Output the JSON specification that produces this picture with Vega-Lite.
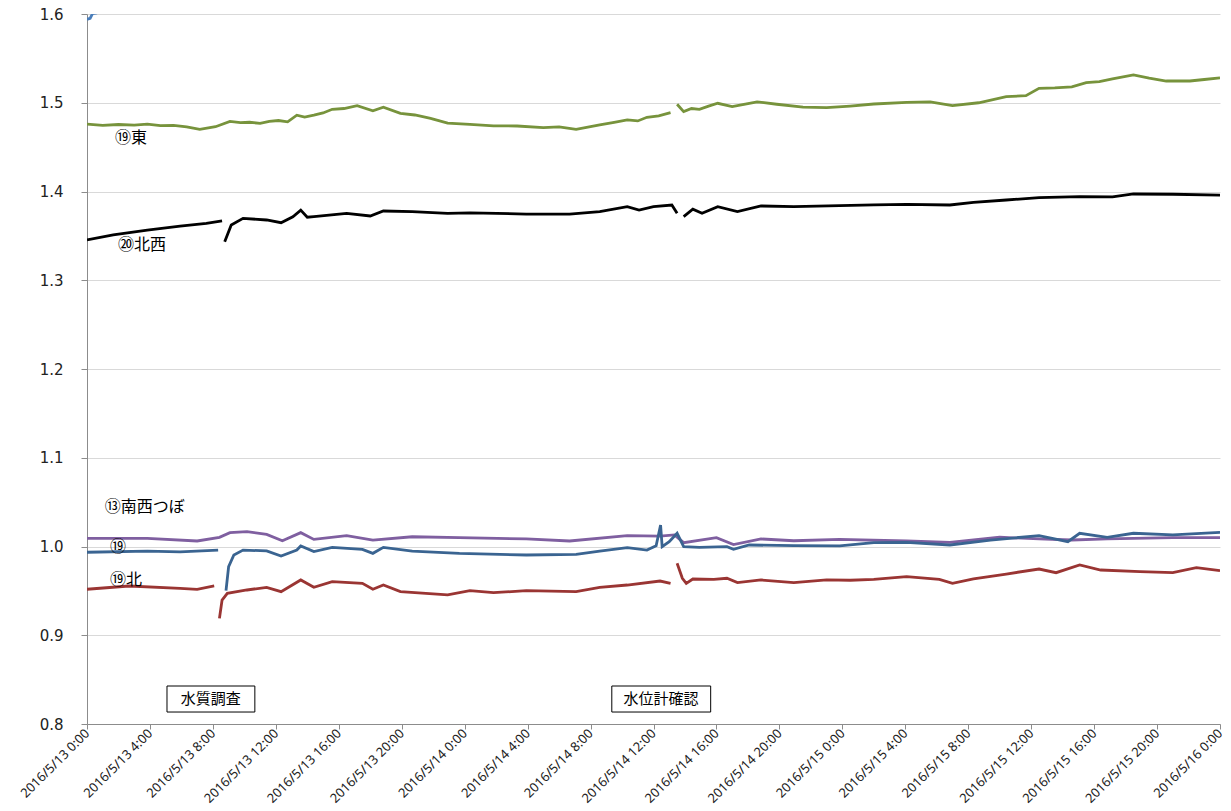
{
  "$schema": "https://vega.github.io/schema/vega-lite/v6.json",
  "width": 1133,
  "height": 710,
  "autosize": {"type": "none"},
  "padding": {"left": 87, "top": 14, "right": 11, "bottom": 87},
  "background": "white",
  "config": {
    "view": {"stroke": null},
    "font": "Noto Sans CJK JP"
  },
  "datasets": {
    "series": [
      {"s":"off","g":"1","t":"2016-05-13T00:00","v":1.594},
      {"s":"off","g":"1","t":"2016-05-13T00:12","v":1.595},
      {"s":"off","g":"1","t":"2016-05-13T00:21","v":1.6005},
      {"s":"off","g":"1","t":"2016-05-13T00:34","v":1.601},
      {"s":"off","g":"1","t":"2016-05-13T00:45","v":1.7},

      {"s":"⑲東","g":"1","t":"2016-05-13T00:00","v":1.476},
      {"s":"⑲東","g":"1","t":"2016-05-13T01:00","v":1.4745},
      {"s":"⑲東","g":"1","t":"2016-05-13T02:00","v":1.4755},
      {"s":"⑲東","g":"1","t":"2016-05-13T03:00","v":1.4748},
      {"s":"⑲東","g":"1","t":"2016-05-13T03:50","v":1.476},
      {"s":"⑲東","g":"1","t":"2016-05-13T04:40","v":1.4742},
      {"s":"⑲東","g":"1","t":"2016-05-13T05:30","v":1.4745},
      {"s":"⑲東","g":"1","t":"2016-05-13T06:20","v":1.4728},
      {"s":"⑲東","g":"1","t":"2016-05-13T07:10","v":1.470},
      {"s":"⑲東","g":"1","t":"2016-05-13T08:10","v":1.473},
      {"s":"⑲東","g":"1","t":"2016-05-13T09:05","v":1.479},
      {"s":"⑲東","g":"1","t":"2016-05-13T09:45","v":1.4775},
      {"s":"⑲東","g":"1","t":"2016-05-13T10:20","v":1.478},
      {"s":"⑲東","g":"1","t":"2016-05-13T11:00","v":1.4768},
      {"s":"⑲東","g":"1","t":"2016-05-13T11:35","v":1.479},
      {"s":"⑲東","g":"1","t":"2016-05-13T12:10","v":1.480},
      {"s":"⑲東","g":"1","t":"2016-05-13T12:45","v":1.4785},
      {"s":"⑲東","g":"1","t":"2016-05-13T13:20","v":1.486},
      {"s":"⑲東","g":"1","t":"2016-05-13T13:50","v":1.4838},
      {"s":"⑲東","g":"1","t":"2016-05-13T14:25","v":1.486},
      {"s":"⑲東","g":"1","t":"2016-05-13T15:00","v":1.4885},
      {"s":"⑲東","g":"1","t":"2016-05-13T15:35","v":1.4926},
      {"s":"⑲東","g":"1","t":"2016-05-13T16:20","v":1.4935},
      {"s":"⑲東","g":"1","t":"2016-05-13T17:10","v":1.4967},
      {"s":"⑲東","g":"1","t":"2016-05-13T18:10","v":1.491},
      {"s":"⑲東","g":"1","t":"2016-05-13T18:50","v":1.495},
      {"s":"⑲東","g":"1","t":"2016-05-13T19:55","v":1.488},
      {"s":"⑲東","g":"1","t":"2016-05-13T20:50","v":1.4862},
      {"s":"⑲東","g":"1","t":"2016-05-13T21:50","v":1.4825},
      {"s":"⑲東","g":"1","t":"2016-05-13T22:55","v":1.477},
      {"s":"⑲東","g":"1","t":"2016-05-14T00:20","v":1.4757},
      {"s":"⑲東","g":"1","t":"2016-05-14T01:50","v":1.474},
      {"s":"⑲東","g":"1","t":"2016-05-14T03:20","v":1.4738},
      {"s":"⑲東","g":"1","t":"2016-05-14T05:00","v":1.472},
      {"s":"⑲東","g":"1","t":"2016-05-14T06:00","v":1.4728},
      {"s":"⑲東","g":"1","t":"2016-05-14T07:05","v":1.470},
      {"s":"⑲東","g":"1","t":"2016-05-14T08:35","v":1.475},
      {"s":"⑲東","g":"1","t":"2016-05-14T09:30","v":1.4778},
      {"s":"⑲東","g":"1","t":"2016-05-14T10:20","v":1.4806},
      {"s":"⑲東","g":"1","t":"2016-05-14T11:00","v":1.4795},
      {"s":"⑲東","g":"1","t":"2016-05-14T11:35","v":1.4836},
      {"s":"⑲東","g":"1","t":"2016-05-14T12:20","v":1.4852},
      {"s":"⑲東","g":"1","t":"2016-05-14T13:05","v":1.4888},
      {"s":"⑲東","g":"2","t":"2016-05-14T13:30","v":1.4983},
      {"s":"⑲東","g":"2","t":"2016-05-14T13:55","v":1.490},
      {"s":"⑲東","g":"2","t":"2016-05-14T14:25","v":1.4935},
      {"s":"⑲東","g":"2","t":"2016-05-14T14:55","v":1.4926},
      {"s":"⑲東","g":"2","t":"2016-05-14T15:30","v":1.4962},
      {"s":"⑲東","g":"2","t":"2016-05-14T16:05","v":1.4994},
      {"s":"⑲東","g":"2","t":"2016-05-14T17:00","v":1.4956},
      {"s":"⑲東","g":"2","t":"2016-05-14T17:50","v":1.4985},
      {"s":"⑲東","g":"2","t":"2016-05-14T18:35","v":1.501},
      {"s":"⑲東","g":"2","t":"2016-05-14T19:50","v":1.4983},
      {"s":"⑲東","g":"2","t":"2016-05-14T21:30","v":1.495},
      {"s":"⑲東","g":"2","t":"2016-05-14T23:00","v":1.4944},
      {"s":"⑲東","g":"2","t":"2016-05-15T00:30","v":1.4963},
      {"s":"⑲東","g":"2","t":"2016-05-15T02:00","v":1.4986},
      {"s":"⑲東","g":"2","t":"2016-05-15T04:05","v":1.5005},
      {"s":"⑲東","g":"2","t":"2016-05-15T05:35","v":1.501},
      {"s":"⑲東","g":"2","t":"2016-05-15T07:00","v":1.4967},
      {"s":"⑲東","g":"2","t":"2016-05-15T08:40","v":1.500},
      {"s":"⑲東","g":"2","t":"2016-05-15T10:25","v":1.5068},
      {"s":"⑲東","g":"2","t":"2016-05-15T11:40","v":1.508},
      {"s":"⑲東","g":"2","t":"2016-05-15T12:30","v":1.5163},
      {"s":"⑲東","g":"2","t":"2016-05-15T13:30","v":1.5168},
      {"s":"⑲東","g":"2","t":"2016-05-15T14:35","v":1.518},
      {"s":"⑲東","g":"2","t":"2016-05-15T15:30","v":1.5226},
      {"s":"⑲東","g":"2","t":"2016-05-15T16:20","v":1.5238},
      {"s":"⑲東","g":"2","t":"2016-05-15T17:10","v":1.5268},
      {"s":"⑲東","g":"2","t":"2016-05-15T18:30","v":1.5313},
      {"s":"⑲東","g":"2","t":"2016-05-15T19:30","v":1.5278},
      {"s":"⑲東","g":"2","t":"2016-05-15T20:35","v":1.5245},
      {"s":"⑲東","g":"2","t":"2016-05-15T22:05","v":1.5245},
      {"s":"⑲東","g":"2","t":"2016-05-15T23:00","v":1.5262},
      {"s":"⑲東","g":"2","t":"2016-05-16T00:00","v":1.528},

      {"s":"⑳北西","g":"1","t":"2016-05-13T00:00","v":1.3454},
      {"s":"⑳北西","g":"1","t":"2016-05-13T01:40","v":1.351},
      {"s":"⑳北西","g":"1","t":"2016-05-13T03:50","v":1.3566},
      {"s":"⑳北西","g":"1","t":"2016-05-13T05:55","v":1.361},
      {"s":"⑳北西","g":"1","t":"2016-05-13T07:35","v":1.3642},
      {"s":"⑳北西","g":"1","t":"2016-05-13T08:35","v":1.367},
      {"s":"⑳北西","g":"2","t":"2016-05-13T08:45","v":1.3434},
      {"s":"⑳北西","g":"2","t":"2016-05-13T09:10","v":1.3623},
      {"s":"⑳北西","g":"2","t":"2016-05-13T09:55","v":1.3698},
      {"s":"⑳北西","g":"2","t":"2016-05-13T11:25","v":1.3679},
      {"s":"⑳北西","g":"2","t":"2016-05-13T12:20","v":1.3648},
      {"s":"⑳北西","g":"2","t":"2016-05-13T13:05","v":1.3716},
      {"s":"⑳北西","g":"2","t":"2016-05-13T13:35","v":1.379},
      {"s":"⑳北西","g":"2","t":"2016-05-13T14:00","v":1.371},
      {"s":"⑳北西","g":"2","t":"2016-05-13T14:25","v":1.3716},
      {"s":"⑳北西","g":"2","t":"2016-05-13T16:30","v":1.3754},
      {"s":"⑳北西","g":"2","t":"2016-05-13T18:00","v":1.3724},
      {"s":"⑳北西","g":"2","t":"2016-05-13T18:50","v":1.378},
      {"s":"⑳北西","g":"2","t":"2016-05-13T20:40","v":1.3773},
      {"s":"⑳北西","g":"2","t":"2016-05-13T22:55","v":1.3754},
      {"s":"⑳北西","g":"2","t":"2016-05-14T00:20","v":1.376},
      {"s":"⑳北西","g":"2","t":"2016-05-14T03:55","v":1.3746},
      {"s":"⑳北西","g":"2","t":"2016-05-14T06:40","v":1.3746},
      {"s":"⑳北西","g":"2","t":"2016-05-14T08:35","v":1.3773},
      {"s":"⑳北西","g":"2","t":"2016-05-14T10:20","v":1.3829},
      {"s":"⑳北西","g":"2","t":"2016-05-14T11:05","v":1.379},
      {"s":"⑳北西","g":"2","t":"2016-05-14T12:00","v":1.3829},
      {"s":"⑳北西","g":"2","t":"2016-05-14T13:10","v":1.3848},
      {"s":"⑳北西","g":"2","t":"2016-05-14T13:30","v":1.3754},
      {"s":"⑳北西","g":"3","t":"2016-05-14T13:55","v":1.3716},
      {"s":"⑳北西","g":"3","t":"2016-05-14T14:30","v":1.380},
      {"s":"⑳北西","g":"3","t":"2016-05-14T15:05","v":1.3754},
      {"s":"⑳北西","g":"3","t":"2016-05-14T16:05","v":1.3829},
      {"s":"⑳北西","g":"3","t":"2016-05-14T17:20","v":1.3773},
      {"s":"⑳北西","g":"3","t":"2016-05-14T18:50","v":1.3837},
      {"s":"⑳北西","g":"3","t":"2016-05-14T20:55","v":1.383},
      {"s":"⑳北西","g":"3","t":"2016-05-14T23:50","v":1.384},
      {"s":"⑳北西","g":"3","t":"2016-05-15T02:00","v":1.385},
      {"s":"⑳北西","g":"3","t":"2016-05-15T04:05","v":1.3856},
      {"s":"⑳北西","g":"3","t":"2016-05-15T06:50","v":1.3848},
      {"s":"⑳北西","g":"3","t":"2016-05-15T08:20","v":1.3878},
      {"s":"⑳北西","g":"3","t":"2016-05-15T10:25","v":1.3904},
      {"s":"⑳北西","g":"3","t":"2016-05-15T12:30","v":1.393},
      {"s":"⑳北西","g":"3","t":"2016-05-15T15:05","v":1.3942},
      {"s":"⑳北西","g":"3","t":"2016-05-15T17:10","v":1.394},
      {"s":"⑳北西","g":"3","t":"2016-05-15T18:30","v":1.3972},
      {"s":"⑳北西","g":"3","t":"2016-05-15T21:00","v":1.3969},
      {"s":"⑳北西","g":"3","t":"2016-05-16T00:00","v":1.396},

      {"s":"⑬南西つぼ","g":"1","t":"2016-05-13T00:00","v":1.0092},
      {"s":"⑬南西つぼ","g":"1","t":"2016-05-13T03:50","v":1.0092},
      {"s":"⑬南西つぼ","g":"1","t":"2016-05-13T07:00","v":1.0062},
      {"s":"⑬南西つぼ","g":"1","t":"2016-05-13T08:25","v":1.0103},
      {"s":"⑬南西つぼ","g":"1","t":"2016-05-13T09:05","v":1.0156},
      {"s":"⑬南西つぼ","g":"1","t":"2016-05-13T10:10","v":1.0167},
      {"s":"⑬南西つぼ","g":"1","t":"2016-05-13T11:25","v":1.0137},
      {"s":"⑬南西つぼ","g":"1","t":"2016-05-13T12:25","v":1.0065},
      {"s":"⑬南西つぼ","g":"1","t":"2016-05-13T13:35","v":1.0156},
      {"s":"⑬南西つぼ","g":"1","t":"2016-05-13T14:25","v":1.008},
      {"s":"⑬南西つぼ","g":"1","t":"2016-05-13T16:30","v":1.0122},
      {"s":"⑬南西つぼ","g":"1","t":"2016-05-13T18:10","v":1.0073},
      {"s":"⑬南西つぼ","g":"1","t":"2016-05-13T20:40","v":1.011},
      {"s":"⑬南西つぼ","g":"1","t":"2016-05-13T23:40","v":1.0099},
      {"s":"⑬南西つぼ","g":"1","t":"2016-05-14T03:55","v":1.0085},
      {"s":"⑬南西つぼ","g":"1","t":"2016-05-14T06:40","v":1.0062},
      {"s":"⑬南西つぼ","g":"1","t":"2016-05-14T10:20","v":1.0122},
      {"s":"⑬南西つぼ","g":"1","t":"2016-05-14T12:25","v":1.0118},
      {"s":"⑬南西つぼ","g":"1","t":"2016-05-14T13:20","v":1.013},
      {"s":"⑬南西つぼ","g":"1","t":"2016-05-14T13:55","v":1.0043},
      {"s":"⑬南西つぼ","g":"1","t":"2016-05-14T16:00","v":1.0099},
      {"s":"⑬南西つぼ","g":"1","t":"2016-05-14T17:05","v":1.0022},
      {"s":"⑬南西つぼ","g":"1","t":"2016-05-14T18:50","v":1.0085},
      {"s":"⑬南西つぼ","g":"1","t":"2016-05-14T20:55","v":1.0065},
      {"s":"⑬南西つぼ","g":"1","t":"2016-05-14T23:50","v":1.008},
      {"s":"⑬南西つぼ","g":"1","t":"2016-05-15T04:05","v":1.0062},
      {"s":"⑬南西つぼ","g":"1","t":"2016-05-15T06:50","v":1.0047},
      {"s":"⑬南西つぼ","g":"1","t":"2016-05-15T10:00","v":1.0104},
      {"s":"⑬南西つぼ","g":"1","t":"2016-05-15T12:30","v":1.0085},
      {"s":"⑬南西つぼ","g":"1","t":"2016-05-15T14:35","v":1.0073},
      {"s":"⑬南西つぼ","g":"1","t":"2016-05-15T16:50","v":1.0085},
      {"s":"⑬南西つぼ","g":"1","t":"2016-05-15T21:00","v":1.0099},
      {"s":"⑬南西つぼ","g":"1","t":"2016-05-16T00:00","v":1.0099},

      {"s":"⑲","g":"1","t":"2016-05-13T00:00","v":0.9935},
      {"s":"⑲","g":"1","t":"2016-05-13T03:50","v":0.9949},
      {"s":"⑲","g":"1","t":"2016-05-13T05:55","v":0.994},
      {"s":"⑲","g":"1","t":"2016-05-13T08:20","v":0.996},
      {"s":"⑲","g":"2","t":"2016-05-13T08:50","v":0.9502},
      {"s":"⑲","g":"2","t":"2016-05-13T09:00","v":0.9773},
      {"s":"⑲","g":"2","t":"2016-05-13T09:20","v":0.9904},
      {"s":"⑲","g":"2","t":"2016-05-13T09:55","v":0.996},
      {"s":"⑲","g":"2","t":"2016-05-13T11:25","v":0.995},
      {"s":"⑲","g":"2","t":"2016-05-13T12:20","v":0.9893},
      {"s":"⑲","g":"2","t":"2016-05-13T13:20","v":0.996},
      {"s":"⑲","g":"2","t":"2016-05-13T13:35","v":1.0006},
      {"s":"⑲","g":"2","t":"2016-05-13T14:25","v":0.9942},
      {"s":"⑲","g":"2","t":"2016-05-13T15:35","v":0.999},
      {"s":"⑲","g":"2","t":"2016-05-13T17:30","v":0.9968},
      {"s":"⑲","g":"2","t":"2016-05-13T18:10","v":0.9923},
      {"s":"⑲","g":"2","t":"2016-05-13T18:50","v":0.999},
      {"s":"⑲","g":"2","t":"2016-05-13T20:40","v":0.9949},
      {"s":"⑲","g":"2","t":"2016-05-13T23:40","v":0.9923},
      {"s":"⑲","g":"2","t":"2016-05-14T03:55","v":0.9904},
      {"s":"⑲","g":"2","t":"2016-05-14T07:05","v":0.9912},
      {"s":"⑲","g":"2","t":"2016-05-14T08:35","v":0.9949},
      {"s":"⑲","g":"2","t":"2016-05-14T10:20","v":0.9987},
      {"s":"⑲","g":"2","t":"2016-05-14T11:35","v":0.996},
      {"s":"⑲","g":"2","t":"2016-05-14T12:10","v":1.0009},
      {"s":"⑲","g":"2","t":"2016-05-14T12:27","v":1.0242},
      {"s":"⑲","g":"2","t":"2016-05-14T12:33","v":0.9998},
      {"s":"⑲","g":"2","t":"2016-05-14T13:00","v":1.0054},
      {"s":"⑲","g":"2","t":"2016-05-14T13:30","v":1.0149},
      {"s":"⑲","g":"2","t":"2016-05-14T13:55","v":0.9998},
      {"s":"⑲","g":"2","t":"2016-05-14T14:55","v":0.999},
      {"s":"⑲","g":"2","t":"2016-05-14T16:40","v":0.9998},
      {"s":"⑲","g":"2","t":"2016-05-14T17:05","v":0.9968},
      {"s":"⑲","g":"2","t":"2016-05-14T18:05","v":1.0017},
      {"s":"⑲","g":"2","t":"2016-05-14T20:55","v":1.0009},
      {"s":"⑲","g":"2","t":"2016-05-14T23:50","v":1.0006},
      {"s":"⑲","g":"2","t":"2016-05-15T02:00","v":1.0043},
      {"s":"⑲","g":"2","t":"2016-05-15T04:05","v":1.0047},
      {"s":"⑲","g":"2","t":"2016-05-15T06:50","v":1.0017},
      {"s":"⑲","g":"2","t":"2016-05-15T09:25","v":1.0073},
      {"s":"⑲","g":"2","t":"2016-05-15T12:30","v":1.0122},
      {"s":"⑲","g":"2","t":"2016-05-15T14:20","v":1.0054},
      {"s":"⑲","g":"2","t":"2016-05-15T15:05","v":1.0149},
      {"s":"⑲","g":"2","t":"2016-05-15T16:50","v":1.0104},
      {"s":"⑲","g":"2","t":"2016-05-15T18:30","v":1.0149},
      {"s":"⑲","g":"2","t":"2016-05-15T21:00","v":1.013},
      {"s":"⑲","g":"2","t":"2016-05-16T00:00","v":1.016},

      {"s":"⑲北","g":"1","t":"2016-05-13T00:00","v":0.9518},
      {"s":"⑲北","g":"1","t":"2016-05-13T02:40","v":0.9555},
      {"s":"⑲北","g":"1","t":"2016-05-13T05:55","v":0.9529},
      {"s":"⑲北","g":"1","t":"2016-05-13T07:00","v":0.9518},
      {"s":"⑲北","g":"1","t":"2016-05-13T08:05","v":0.9555},
      {"s":"⑲北","g":"2","t":"2016-05-13T08:25","v":0.919},
      {"s":"⑲北","g":"2","t":"2016-05-13T08:35","v":0.9397},
      {"s":"⑲北","g":"2","t":"2016-05-13T08:55","v":0.9473},
      {"s":"⑲北","g":"2","t":"2016-05-13T10:10","v":0.951},
      {"s":"⑲北","g":"2","t":"2016-05-13T11:25","v":0.954},
      {"s":"⑲北","g":"2","t":"2016-05-13T12:20","v":0.9491},
      {"s":"⑲北","g":"2","t":"2016-05-13T13:35","v":0.9623},
      {"s":"⑲北","g":"2","t":"2016-05-13T14:25","v":0.954},
      {"s":"⑲北","g":"2","t":"2016-05-13T15:35","v":0.9604},
      {"s":"⑲北","g":"2","t":"2016-05-13T17:30","v":0.9585},
      {"s":"⑲北","g":"2","t":"2016-05-13T18:10","v":0.9518},
      {"s":"⑲北","g":"2","t":"2016-05-13T18:50","v":0.9566},
      {"s":"⑲北","g":"2","t":"2016-05-13T19:55","v":0.9491},
      {"s":"⑲北","g":"2","t":"2016-05-13T22:55","v":0.9454},
      {"s":"⑲北","g":"2","t":"2016-05-14T00:20","v":0.9502},
      {"s":"⑲北","g":"2","t":"2016-05-14T01:50","v":0.948},
      {"s":"⑲北","g":"2","t":"2016-05-14T03:55","v":0.9502},
      {"s":"⑲北","g":"2","t":"2016-05-14T07:05","v":0.9491},
      {"s":"⑲北","g":"2","t":"2016-05-14T08:35","v":0.954},
      {"s":"⑲北","g":"2","t":"2016-05-14T10:20","v":0.9566},
      {"s":"⑲北","g":"2","t":"2016-05-14T12:25","v":0.9611},
      {"s":"⑲北","g":"2","t":"2016-05-14T13:05","v":0.9585},
      {"s":"⑲北","g":"3","t":"2016-05-14T13:30","v":0.9811},
      {"s":"⑲北","g":"3","t":"2016-05-14T13:50","v":0.9642},
      {"s":"⑲北","g":"3","t":"2016-05-14T14:05","v":0.9585},
      {"s":"⑲北","g":"3","t":"2016-05-14T14:30","v":0.9634},
      {"s":"⑲北","g":"3","t":"2016-05-14T15:50","v":0.963},
      {"s":"⑲北","g":"3","t":"2016-05-14T16:40","v":0.9642},
      {"s":"⑲北","g":"3","t":"2016-05-14T17:20","v":0.9593},
      {"s":"⑲北","g":"3","t":"2016-05-14T18:50","v":0.9623},
      {"s":"⑲北","g":"3","t":"2016-05-14T20:55","v":0.9593},
      {"s":"⑲北","g":"3","t":"2016-05-14T23:00","v":0.9623},
      {"s":"⑲北","g":"3","t":"2016-05-15T00:30","v":0.962},
      {"s":"⑲北","g":"3","t":"2016-05-15T02:00","v":0.963},
      {"s":"⑲北","g":"3","t":"2016-05-15T04:05","v":0.966},
      {"s":"⑲北","g":"3","t":"2016-05-15T06:10","v":0.963},
      {"s":"⑲北","g":"3","t":"2016-05-15T07:00","v":0.9585},
      {"s":"⑲北","g":"3","t":"2016-05-15T08:20","v":0.9634},
      {"s":"⑲北","g":"3","t":"2016-05-15T10:25","v":0.969},
      {"s":"⑲北","g":"3","t":"2016-05-15T12:30","v":0.9746},
      {"s":"⑲北","g":"3","t":"2016-05-15T13:35","v":0.9705},
      {"s":"⑲北","g":"3","t":"2016-05-15T15:05","v":0.9792},
      {"s":"⑲北","g":"3","t":"2016-05-15T16:25","v":0.9735},
      {"s":"⑲北","g":"3","t":"2016-05-15T18:55","v":0.9716},
      {"s":"⑲北","g":"3","t":"2016-05-15T21:00","v":0.9705},
      {"s":"⑲北","g":"3","t":"2016-05-15T22:30","v":0.9761},
      {"s":"⑲北","g":"3","t":"2016-05-16T00:00","v":0.9727}
    ],
    "labels": [
      {"text":"⑲東","t":"2016-05-13T01:47","v":1.4603},
      {"text":"⑳北西","t":"2016-05-13T01:58","v":1.3397},
      {"text":"⑬南西つぼ","t":"2016-05-13T01:08","v":1.0445},
      {"text":"⑲","t":"2016-05-13T01:28","v":0.9994},
      {"text":"⑲北","t":"2016-05-13T01:28","v":0.9623}
    ],
    "boxes": [
      {"text":"水質調査","t":"2016-05-13T05:05","t2":"2016-05-13T10:40","tm":"2016-05-13T07:52","v":0.8428,"v2":0.8135,"vm":0.8282},
      {"text":"水位計確認","t":"2016-05-14T09:21","t2":"2016-05-14T15:38","tm":"2016-05-14T12:29","v":0.8428,"v2":0.8135,"vm":0.8282}
    ]
  },
  "layer": [
    {
      "data": {"name": "series"},
      "mark": {"type": "line", "strokeWidth": 2.8, "clip": true, "interpolate": "linear"},
      "encoding": {
        "x": {
          "field": "t", "type": "temporal",
          "scale": {"domain": [{"year":2016,"month":5,"date":13,"hours":0},{"year":2016,"month":5,"date":16,"hours":0}]},
          "axis": {
            "title": null,
            "format": "%Y/%-m/%-d %-H:%M",
            "values": [
              {"year":2016,"month":5,"date":13,"hours":0},
              {"year":2016,"month":5,"date":13,"hours":4},
              {"year":2016,"month":5,"date":13,"hours":8},
              {"year":2016,"month":5,"date":13,"hours":12},
              {"year":2016,"month":5,"date":13,"hours":16},
              {"year":2016,"month":5,"date":13,"hours":20},
              {"year":2016,"month":5,"date":14,"hours":0},
              {"year":2016,"month":5,"date":14,"hours":4},
              {"year":2016,"month":5,"date":14,"hours":8},
              {"year":2016,"month":5,"date":14,"hours":12},
              {"year":2016,"month":5,"date":14,"hours":16},
              {"year":2016,"month":5,"date":14,"hours":20},
              {"year":2016,"month":5,"date":15,"hours":0},
              {"year":2016,"month":5,"date":15,"hours":4},
              {"year":2016,"month":5,"date":15,"hours":8},
              {"year":2016,"month":5,"date":15,"hours":12},
              {"year":2016,"month":5,"date":15,"hours":16},
              {"year":2016,"month":5,"date":15,"hours":20},
              {"year":2016,"month":5,"date":16,"hours":0}
            ],
            "labelAngle": -45,
            "labelAlign": "right",
            "labelBaseline": "middle",
            "labelFont": "Noto Sans",
            "labelFontSize": 13,
            "labelColor": "#222222",
            "labelPadding": 2,
            "labelOverlap": false,
            "labelBound": false,
            "labelFlush": false,
            "domainColor": "#8c8c8c",
            "tickColor": "#8c8c8c",
            "tickSize": 5,
            "grid": false
          }
        },
        "y": {
          "field": "v", "type": "quantitative",
          "scale": {"domain": [0.8, 1.6], "nice": false, "zero": false},
          "axis": {
            "title": null,
            "values": [0.8, 0.9, 1.0, 1.1, 1.2, 1.3, 1.4, 1.5, 1.6],
            "format": ".1f",
            "labelFont": "DejaVu Sans",
            "labelFontSize": 15,
            "labelColor": "#222222",
            "labelPadding": 18,
            "domainColor": "#8c8c8c",
            "tickColor": "#8c8c8c",
            "tickSize": 6,
            "grid": true,
            "gridColor": "#d9d9d9",
            "gridWidth": 1
          }
        },
        "color": {
          "field": "s", "type": "nominal", "legend": null,
          "scale": {
            "domain": ["off", "⑲東", "⑳北西", "⑬南西つぼ", "⑲", "⑲北"],
            "range": ["#4a7ebb", "#77933c", "#000000", "#7f5fa0", "#3a6491", "#9a3533"]
          }
        },
        "detail": {"field": "g", "type": "nominal"}
      }
    },
    {
      "data": {"name": "labels"},
      "mark": {"type": "text", "align": "left", "baseline": "middle", "fontSize": 16, "font": "Noto Sans CJK JP", "color": "#000000"},
      "encoding": {
        "x": {"field": "t", "type": "temporal"},
        "y": {"field": "v", "type": "quantitative"},
        "text": {"field": "text"}
      }
    },
    {
      "data": {"name": "boxes"},
      "mark": {"type": "rect", "fill": "white", "stroke": "#000000", "strokeWidth": 1},
      "encoding": {
        "x": {"field": "t", "type": "temporal"},
        "x2": {"field": "t2"},
        "y": {"field": "v", "type": "quantitative"},
        "y2": {"field": "v2"}
      }
    },
    {
      "data": {"name": "boxes"},
      "mark": {"type": "text", "align": "center", "baseline": "middle", "fontSize": 15, "font": "Noto Sans CJK JP", "color": "#000000"},
      "encoding": {
        "x": {"field": "tm", "type": "temporal"},
        "y": {"field": "vm", "type": "quantitative"},
        "text": {"field": "text"}
      }
    }
  ]
}
